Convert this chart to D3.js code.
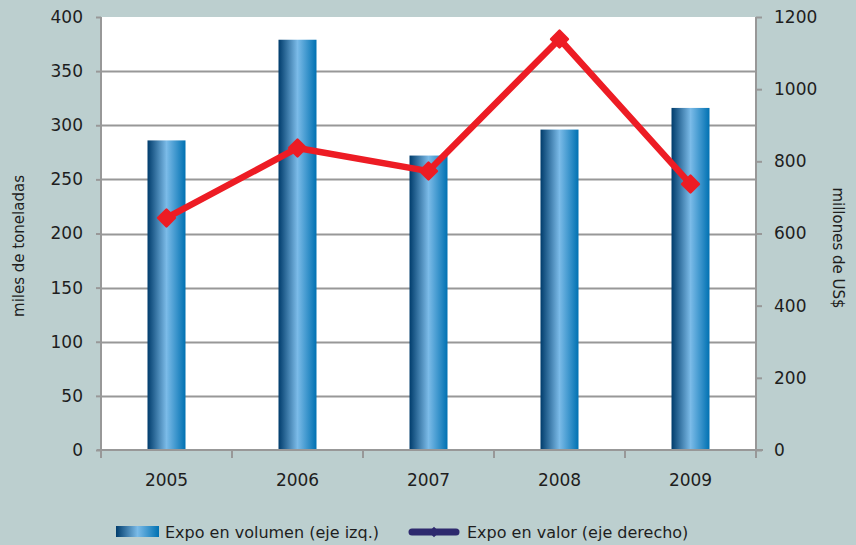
<!DOCTYPE html>
<html><head><meta charset="utf-8">
<script src="https://cdn.jsdelivr.net/npm/d3@7"></script>
<style>body{margin:0;background:#bccfcf;} svg{display:block;}</style>
</head><body>
<svg id="c" width="856" height="545"></svg>
<script>
const years = ["2005","2006","2007","2008","2009"];
const volumen = [286, 379, 272, 296, 316];
const valor = [643, 837, 773, 1139, 737];
const leftTicks = [0,50,100,150,200,250,300,350,400];
const rightTicks = [0,200,400,600,800,1000,1200];
const legendLabels = ["Expo en volumen (eje izq.)", "Expo en valor (eje derecho)"];
const axisTitles = ["miles de toneladas", "millones de US$"];

const svg = d3.select("#c");
const W=856,H=545;
const m={l:101,r:756,t:17,b:450};
const font = "'DejaVu Sans', sans-serif";
const grey = "#989898";
const txt = "#1e1e1e";

svg.append("rect").attr("width",W).attr("height",H).attr("fill","#bccfcf");

const x = d3.scaleBand().domain(years).range([m.l,m.r]).paddingInner(0.71).paddingOuter(0.355);
const band = d3.scaleBand().domain(years).range([m.l,m.r]);
const yL = d3.scaleLinear().domain([0,400]).range([m.b,m.t]);
const yR = d3.scaleLinear().domain([0,1200]).range([m.b,m.t]);

const defs = svg.append("defs");
const g = defs.append("linearGradient").attr("id","bg").attr("x1","0").attr("x2","1").attr("y1","0").attr("y2","0");
g.append("stop").attr("offset","0%").attr("stop-color","#003c6c");
g.append("stop").attr("offset","50%").attr("stop-color","#7bbbe8");
g.append("stop").attr("offset","100%").attr("stop-color","#0071b2");

svg.append("rect").attr("x",m.l).attr("y",m.t).attr("width",m.r-m.l).attr("height",m.b-m.t).attr("fill","#fff");

// gridlines
svg.append("g").selectAll("line").data(leftTicks.filter(d=>d>0&&d<400)).join("line")
  .attr("x1",m.l).attr("x2",m.r).attr("y1",d=>Math.round(yL(d))+0.5).attr("y2",d=>Math.round(yL(d))+0.5)
  .attr("stroke",grey).attr("stroke-width",2);

// bars
svg.append("g").selectAll("rect").data(years).join("rect")
  .attr("x",d=>x(d)).attr("width",x.bandwidth())
  .attr("y",(d,i)=>yL(volumen[i])).attr("height",(d,i)=>m.b-yL(volumen[i]))
  .attr("fill","url(#bg)");

// left axis
const ax = svg.append("g").attr("transform",`translate(${m.l},0)`)
  .call(d3.axisLeft(yL).tickValues(leftTicks).tickFormat(d3.format("d")).tickSize(5).tickPadding(13));
ax.select(".domain").attr("stroke",grey).attr("stroke-width",2).attr("d",`M0,${m.t}V${m.b}`);
ax.selectAll(".tick line").attr("stroke",grey).attr("stroke-width",2);
ax.selectAll("text").attr("font-family",font).attr("font-size",17).attr("fill",txt);

// right axis
const ar = svg.append("g").attr("transform",`translate(${m.r},0)`)
  .call(d3.axisRight(yR).tickValues(rightTicks).tickFormat(d3.format("d")).tickSize(6).tickPadding(12));
ar.select(".domain").attr("stroke",grey).attr("stroke-width",2).attr("d",`M0,${m.t}V${m.b}`);
ar.selectAll(".tick line").attr("stroke",grey).attr("stroke-width",2);
ar.selectAll("text").attr("font-family",font).attr("font-size",17).attr("fill",txt);

// bottom axis
const ab = svg.append("g").attr("transform",`translate(0,${m.b})`)
  .call(d3.axisBottom(band).tickSize(0).tickPadding(24));
ab.select(".domain").attr("stroke",grey).attr("stroke-width",2).attr("d",`M${m.l-4},0H${m.r+7}`);
ab.selectAll("text").attr("font-family",font).attr("font-size",17).attr("fill",txt);
ab.append("g").selectAll("line").data(years.concat(["end"])).join("line")
  .attr("x1",(d,i)=>m.l+i*band.bandwidth()).attr("x2",(d,i)=>m.l+i*band.bandwidth())
  .attr("y1",0).attr("y2",8).attr("stroke",grey).attr("stroke-width",2);

// line
const line = d3.line().x((d,i)=>band(years[i])+band.bandwidth()/2).y(d=>yR(d));
svg.append("path").datum(valor).attr("d",line).attr("fill","none")
  .attr("stroke","#ed1c24").attr("stroke-width",6.5).attr("stroke-linejoin","round");
svg.append("g").selectAll("path").data(valor).join("path")
  .attr("d",d3.symbol(d3.symbolDiamond2,180))
  .attr("transform",(d,i)=>`translate(${band(years[i])+band.bandwidth()/2},${yR(d)})`)
  .attr("fill","#ed1c24").attr("stroke","#ed1c24").attr("stroke-width",2.5).attr("stroke-linejoin","round");

// axis titles
svg.append("text").attr("transform","translate(24,246) rotate(-90)").attr("text-anchor","middle")
  .attr("font-family",font).attr("font-size",15).attr("fill",txt).text(axisTitles[0]);
svg.append("text").attr("transform","translate(833,248) rotate(90)").attr("text-anchor","middle")
  .attr("font-family",font).attr("font-size",15).attr("fill",txt).text(axisTitles[1]);

// legend
const lg = svg.append("g");
lg.append("rect").attr("x",116).attr("y",526).attr("width",43).attr("height",11).attr("fill","url(#bg)");
lg.append("text").attr("x",165).attr("y",538).attr("font-family",font).attr("font-size",16).attr("fill",txt).text(legendLabels[0]);
lg.append("line").attr("x1",412).attr("x2",456).attr("y1",532).attr("y2",532).attr("stroke","#2e2a6e").attr("stroke-width",7).attr("stroke-linecap","round");
lg.append("path").attr("d",d3.symbol(d3.symbolDiamond2,70)).attr("transform","translate(434,532)").attr("fill","#2e2a6e");
lg.append("text").attr("x",467).attr("y",538).attr("font-family",font).attr("font-size",16).attr("fill",txt).text(legendLabels[1]);
</script>
</body></html>
